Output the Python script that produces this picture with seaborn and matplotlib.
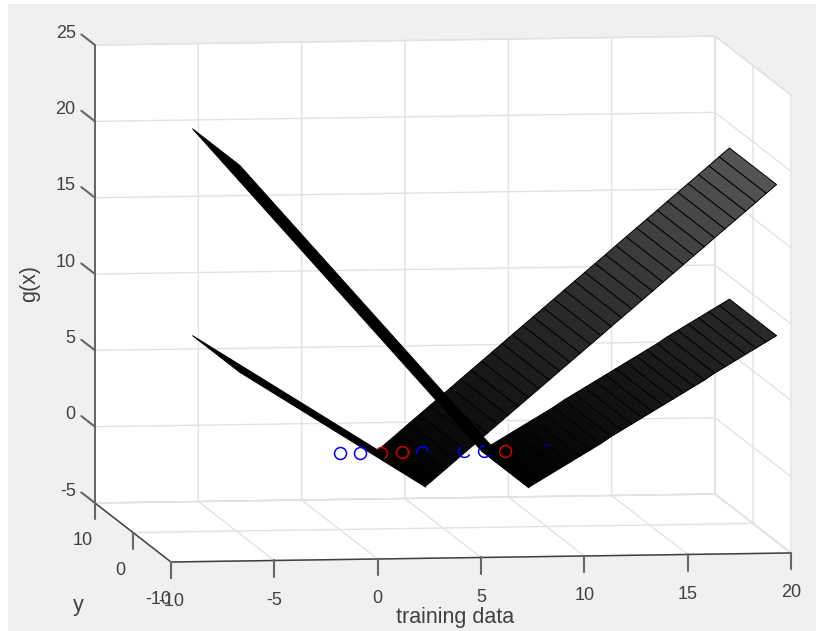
import numpy as np
import seaborn as sns
import matplotlib.pyplot as plt
from matplotlib.patches import Rectangle
from matplotlib.path import Path
from mpl_toolkits.mplot3d import proj3d

# %% values
x_ticks = [-10, -5, 0, 5, 10, 15, 20]
y_ticks = [-10, 0, 10]
z_ticks = [-5, 0, 5, 10, 15, 20, 25]

# the surfaces run over the same y span, g(x) does not change along y
surf_y = [-6.2, 6.2]

v1_left_x = [-6, 3]
v1_left_z = [6.65, -1.05]
v1_right_x = [3, 3.5, 4, 4.5, 5, 5.5, 6, 6.5, 7, 7.5, 8, 8.5, 9, 9.5, 10, 10.5, 11, 11.5,
              12, 12.5, 13, 13.5, 14, 14.5, 15, 15.5, 16, 16.5, 17, 17.5, 18, 18.5, 19,
              19.5, 20]
v1_right_z = [-1.05, -0.48, 0.09, 0.67, 1.24, 1.81, 2.38, 2.95, 3.53, 4.10, 4.67, 5.24,
              5.81, 6.39, 6.96, 7.53, 8.10, 8.67, 9.25, 9.82, 10.39, 10.96, 11.53,
              12.11, 12.68, 13.25, 13.82, 14.39, 14.97, 15.54, 16.11, 16.68, 17.25,
              17.83, 18.40]

v2_left_x = [-6, 8]
v2_left_z = [20.2, -1.2]
v2_right_x = [8, 8.5, 9, 9.5, 10, 10.5, 11, 11.5, 12, 12.5, 13, 13.5, 14, 14.5, 15, 15.5,
              16, 16.5, 17, 17.5, 18, 18.5, 19, 19.5, 20]
v2_right_z = [-1.2, -0.8, -0.4, 0.0, 0.4, 0.8, 1.2, 1.6, 2.05, 2.45, 2.85, 3.25, 3.65,
              4.05, 4.45, 4.85, 5.25, 5.65, 6.1, 6.5, 6.9, 7.3, 7.7, 8.1, 8.5]

# training points, (x, colour, visible arc in degrees or None if fully visible)
point_x = [0, 1, 2, 3, 4, 6, 7, 8, 10]
point_color = ['blue', 'blue', '#cc0000', '#cc0000', 'blue', 'blue', 'blue', '#cc0000', '#000080']
point_arc = [None, None, (-60, 130), None, (15, 190), (130, 330), (90, 320), None, (60, 120)]

# %%
sns.set_theme(style='white')
plt.rcParams['font.family'] = ['Liberation Sans', 'DejaVu Sans']
TEXT = '#404040'
GRID = '#e2e2e2'

fig = plt.figure(figsize=(8.16, 6.31), dpi=100, facecolor='white')
fig.add_artist(Rectangle((8 / 816, 0), 808 / 816, 627 / 631, transform=fig.transFigure,
                         facecolor='#f0f0f0', edgecolor='none', zorder=-1))

ax = fig.add_axes([0.1, 0.1, 500 / 816, 500 / 631], projection='3d',
                  proj_type='ortho', computed_zorder=False)
ax.set_facecolor('none')
ax.set_box_aspect((625.8, 560, 460.6))
ax.view_init(elev=6.1, azim=-97.8)
ax.set_xlim(-10, 20, view_margin=0)
ax.set_ylim(-10, 10, view_margin=0)
ax.set_zlim(-5, 25, view_margin=0)

# grid and walls
ax.set_xticks(x_ticks)
ax.set_yticks(y_ticks)
ax.set_zticks(z_ticks)
ax.set_xticklabels([])
ax.set_yticklabels([])
ax.set_zticklabels([])
ax.tick_params(axis='both', color=(0, 0, 0, 0))
for axis in [ax.xaxis, ax.yaxis, ax.zaxis]:
    axis.pane.set_facecolor('white')
    axis.pane.set_alpha(1)
    axis.pane.set_edgecolor(GRID)
    axis.line.set_color((0, 0, 0, 0))
    axis._axinfo['grid']['color'] = GRID
    axis._axinfo['grid']['linewidth'] = 1.0

# surfaces
grey = sns.blend_palette(['#000000', '#555555'], as_cmap=True)


def ribbon(xs, zs, **kwargs):
    X, Y = np.meshgrid(xs, surf_y)
    Z = np.array([zs, zs])
    ax.plot_surface(X, Y, Z, shade=False, edgecolor='black', linewidth=0.7, **kwargs)


ribbon(v1_left_x, v1_left_z, color='black', zorder=2)
ribbon(v1_right_x, v1_right_z, cmap=grey, vmin=-1, vmax=18.4, zorder=2)
ribbon(v2_right_x, v2_right_z, cmap=grey, vmin=-1, vmax=18.4, zorder=3)
ribbon(v2_left_x, v2_left_z, color='black', zorder=3)

# points
for px_, col, arc in zip(point_x, point_color, point_arc):
    marker = 'o' if arc is None else Path.arc(*arc)
    ax.plot([px_], [0], [0], linestyle='none', marker=marker, markersize=8.6,
            markeredgecolor=col, markerfacecolor='none', markeredgewidth=1.1, zorder=5)

# axis lines and tick marks
axis_kw = dict(color=TEXT, lw=1.1, clip_on=False, zorder=6)
tick_kw = dict(color='#666666', lw=1.5, clip_on=False, zorder=6)
ax.plot([-10, 20], [-10, -10], [-5, -5], **axis_kw)
ax.plot([-10, -10], [-10, 10], [-5, -5], **axis_kw)
ax.plot([-10, -10], [10, 10], [-5, 25], **axis_kw)

for t in x_ticks:
    ax.plot([t, t], [-10, -10], [-5, -6.05], **tick_kw)
for t in y_ticks:
    ax.plot([-10, -10], [t, t], [-5, -6.05], **tick_kw)
for t in z_ticks:
    ax.plot([-10, -10], [10, 13.6], [t, t], **tick_kw)


# %% fit the axes so the box corners land where they are in the reference
def to_px(x, y, z):
    xs, ys, _ = proj3d.proj_transform(x, y, z, ax.get_proj())
    return ax.transData.transform((xs, ys))


fig.canvas.draw()
a0, b0 = to_px(-10, -10, -5), to_px(20, -10, -5)
pos = ax.get_position()
s0 = pos.width * 816
c0 = np.array([(pos.x0 + pos.width / 2) * 816, (pos.y0 + pos.height / 2) * 631])
target_a, target_b = np.array([171, 631 - 562]), np.array([791, 631 - 553])
k = np.linalg.norm(target_b - target_a) / np.linalg.norm(b0 - a0)
c1 = target_a - (a0 - c0) * k
s1 = s0 * k
ax.set_position([(c1[0] - s1 / 2) / 816, (c1[1] - s1 / 2) / 631, s1 / 816, s1 / 631])
fig.canvas.draw()


# %% tick labels go on once the projection is final
def label3d(x, y, z, s, **kwargs):
    p = to_px(x, y, z)
    fig.text(p[0] / 816, p[1] / 631, s, va='center', color=TEXT, fontsize=13, **kwargs)


for t in x_ticks:
    label3d(t, -10, -7.62, str(t), ha='center')
for t in y_ticks:
    label3d(-10.6, t, -7.45, str(t), ha='center')
for t in z_ticks:
    label3d(-10.2, 14, t, str(t), ha='right')

fig.text(455 / 816, 1 - 618 / 631, 'training data', ha='center', va='center', color=TEXT, fontsize=15.5)
fig.text(30 / 816, 1 - 283 / 631, 'g(x)', ha='center', va='center', rotation=90, color=TEXT, fontsize=15.5)
fig.text(78 / 816, 1 - 606 / 631, 'y', ha='center', va='center', color=TEXT, fontsize=15.5)

fig.savefig('out.png', dpi=100)
